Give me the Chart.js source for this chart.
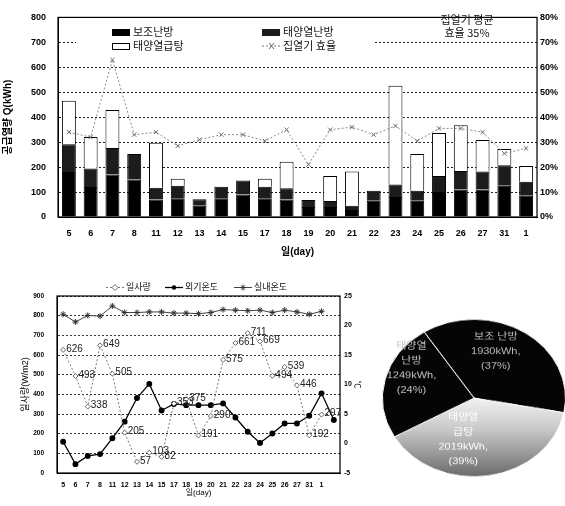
<!DOCTYPE html>
<html>
<head>
<meta charset="utf-8">
<script src="https://cdn.jsdelivr.net/npm/chart.js@4.4.0/dist/chart.umd.min.js"></script>
<style>
  body { margin: 0; background: #fff; width: 565px; height: 506px; overflow: hidden; position: relative;
         font-family: "Noto Sans CJK KR", "Liberation Sans", sans-serif; color: #111; }
  .abs { position: absolute; }
  .lg { position: absolute; font-size: 11px; line-height: 13px; white-space: nowrap; }
  .sw { position: absolute; width: 18px; height: 7px; box-sizing: border-box; }
  .lg2 { position: absolute; font-size: 9px; line-height: 11px; white-space: nowrap; }
</style>
</head>
<body>

<div class="abs" style="left:0;top:0;width:565px;height:262px"><canvas id="topChart"></canvas></div>

<!-- legend of the top chart, sits inside the plot on a white box -->
<div class="abs" style="left:76px;top:21px;width:298px;height:31px;background:#fff"></div>
<div class="sw" style="left:112px;top:29px;background:#000"></div>
<div class="lg" style="left:133px;top:25px">보조난방</div>
<div class="sw" style="left:262px;top:29px;background:#1c1c1c"></div>
<div class="lg" style="left:283px;top:25px">태양열난방</div>
<div class="sw" style="left:112px;top:43px;background:#fff;border:1px solid #000"></div>
<div class="lg" style="left:133px;top:39px">태양열급탕</div>
<svg class="abs" style="left:262px;top:41px" width="19" height="10">
  <line x1="0" y1="5" x2="19" y2="5" stroke="#777" stroke-dasharray="2,2"/>
  <path d="M7 2 L12 8 M12 2 L7 8" stroke="#666" stroke-width="1"/>
</svg>
<div class="lg" style="left:283px;top:39px">집열기 효율</div>
<div class="lg" style="left:434px;top:13px;width:66px;text-align:center">집열기 평균<br>효율 35%</div>

<div class="abs" style="left:0;top:272px;width:362px;height:234px"><canvas id="bottomChart"></canvas></div>

<!-- legend of the bottom chart -->
<svg class="abs" style="left:106px;top:283px" width="18" height="9">
  <line x1="0" y1="4.5" x2="18" y2="4.5" stroke="#777" stroke-dasharray="2,2"/>
  <path d="M9 1.5 L12 4.5 L9 7.5 L6 4.5 Z" fill="#fff" stroke="#666"/>
</svg>
<div class="lg2" style="left:126px;top:281px">일사량</div>
<svg class="abs" style="left:165px;top:283px" width="18" height="9">
  <line x1="0" y1="4.5" x2="18" y2="4.5" stroke="#000" stroke-width="1.3"/>
  <circle cx="9" cy="4.5" r="2.3" fill="#000"/>
</svg>
<div class="lg2" style="left:185px;top:281px">외기온도</div>
<svg class="abs" style="left:234px;top:283px" width="18" height="9">
  <line x1="0" y1="4.5" x2="18" y2="4.5" stroke="#444"/>
  <path d="M9 1.5 V7.5 M6 4.5 H12 M7 2.5 L11 6.5 M11 2.5 L7 6.5" stroke="#333"/>
</svg>
<div class="lg2" style="left:254px;top:281px">실내온도</div>

<div class="abs" id="pieWrap" style="left:382px;top:306px;width:184px;height:184px;transform:scaleY(0.86);transform-origin:50% 50%">
  <canvas id="pieChart" width="184" height="184"></canvas>
</div>

<script>
// ---- top chart: daily heat supply (kWh) + collector efficiency (%)
const days = ['5', '6', '7', '8', '11', '12', '13', '14', '15', '17', '18', '19', '20', '21', '22', '23', '24', '25', '26', '27', '31', '1'];
const auxHeat    = [180, 120, 170, 150, 70, 75, 45, 75, 90, 75, 70, 40, 40, 28, 65, 80, 65, 100, 110, 110, 125, 85];
const solarHeat  = [112, 74, 107, 103, 47, 50, 26, 46, 56, 46, 45, 28, 24, 17, 40, 50, 40, 64, 74, 72, 82, 56];
const solarWater = [174, 127, 152, 0, 181, 28, 0, 0, 0, 32, 106, 0, 100, 137, 0, 396, 148, 173, 184, 127, 66, 63];
const efficiency = [34, 32, 63, 33, 34, 28.5, 31, 33, 33, 30.5, 35, 21, 35, 36, 33, 36.5, 30.5, 35.5, 35.5, 34, 25.5, 27.5];

// ---- bottom chart: irradiance (W/m2) and temperatures (C)
const days2 = ['5', '6', '7', '8', '11', '12', '13', '14', '15', '17', '18', '19', '20', '21', '22', '23', '24', '25', '26', '27', '31', '1', ''];
const irradiance  = [626, 493, 338, 649, 505, 205, 57, 103, 82, 353, 375, 191, 290, 575, 661, 711, 669, 494, 539, 446, 192, 297, null];
const outdoorTemp = [0.3, -3.5, -2.1, -1.8, 0.9, 3.7, 7.7, 10.1, 5.6, 6.7, 6.5, 6.5, 6.5, 6.8, 4.4, 2.0, 0.1, 1.7, 3.4, 3.4, 4.7, 8.5, 4.0];
const indoorTemp  = [21.9, 20.6, 21.7, 21.6, 23.3, 22.2, 22.2, 22.3, 22.3, 22.1, 22.1, 22.0, 22.2, 22.7, 22.6, 22.5, 22.6, 22.2, 22.6, 22.3, 21.9, 22.4, null];

// ---- pie: share of heat supply
const pieNames  = [['보조 난방'], ['태양열', '급탕'], ['태양열', '난방']];
const pieValues = [1930, 2019, 1249];
const piePct    = ['37%', '39%', '24%'];

Chart.defaults.font.family = '"Liberation Sans", "Noto Sans CJK KR", sans-serif';
Chart.defaults.color = '#000';

// frame around the plot area
const frame = {
  id: 'frame',
  afterDatasetsDraw(chart) {
    const a = chart.chartArea, c = chart.ctx;
    c.save();
    c.strokeStyle = '#000';
    c.lineWidth = 1.2;
    c.strokeRect(a.left, a.top, a.right - a.left, a.bottom - a.top);
    c.restore();
  }
};

const barStyle = { borderColor: '#000', borderWidth: 1, order: 1, categoryPercentage: 0.64, barPercentage: 1 };

new Chart(document.getElementById('topChart'), {
  type: 'bar',
  data: {
    labels: days,
    datasets: [
      { type: 'line', label: '집열기 효율', data: efficiency, yAxisID: 'y1', order: 0,
        borderColor: '#8a8a8a', borderWidth: 1, borderDash: [2, 2], tension: 0,
        pointStyle: 'crossRot', pointRadius: 3, pointBorderColor: '#6a6a6a', pointBorderWidth: 1 },
      Object.assign({ label: '보조난방', data: auxHeat, backgroundColor: '#000' }, barStyle),
      Object.assign({ label: '태양열난방', data: solarHeat, backgroundColor: '#1c1c1c' }, barStyle),
      Object.assign({ label: '태양열급탕', data: solarWater, backgroundColor: '#fff' }, barStyle)
    ]
  },
  options: {
    responsive: true,
    maintainAspectRatio: false,
    animation: false,
    layout: { padding: { top: 15, left: 0, right: 0, bottom: 0 } },
    plugins: { legend: { display: false }, tooltip: { enabled: false } },
    scales: {
      x: {
        stacked: true,
        grid: { display: false, drawTicks: false },
        border: { color: '#000' },
        ticks: { font: { size: 9, weight: 'bold' }, padding: 11, maxRotation: 0, autoSkip: false },
        title: { display: true, text: '일(day)', font: { size: 10, weight: 'bold' }, padding: { top: 2, bottom: 4 } },
        afterFit: s => { s.height = 45; }
      },
      y: {
        stacked: true, min: 0, max: 800,
        ticks: { stepSize: 100, font: { size: 9, weight: 'bold' }, padding: 12 },
        grid: { color: '#222', lineWidth: 1, drawTicks: false },
        border: { dash: [2, 2], color: '#000' },
        title: { display: true, text: '공급열량 Q(kWh)', font: { size: 10, weight: 'bold' }, padding: { top: 2, bottom: 2 } },
        afterFit: s => { s.width = 58; }
      },
      y1: {
        position: 'right', min: 0, max: 80,
        ticks: { stepSize: 10, font: { size: 9, weight: 'bold' }, padding: 3, callback: v => v + '%' },
        grid: { display: false, drawTicks: false },
        afterFit: s => { s.width = 28; }
      }
    }
  },
  plugins: [frame]
});

// value labels next to the irradiance points
const irrLabels = {
  id: 'irrLabels',
  afterDatasetsDraw(chart) {
    const c = chart.ctx;
    const meta = chart.getDatasetMeta(0);
    c.save();
    c.font = '10px "Liberation Sans", sans-serif';
    c.fillStyle = '#222';
    c.textBaseline = 'middle';
    meta.data.forEach((pt, i) => {
      if (irradiance[i] == null) return;
      c.fillText(irradiance[i], pt.x + 3, pt.y - 1);
    });
    c.restore();
  }
};

new Chart(document.getElementById('bottomChart'), {
  type: 'line',
  data: {
    labels: days2,
    datasets: [
      { label: '일사량', data: irradiance, yAxisID: 'y', borderColor: '#7a7a7a', borderWidth: 1, borderDash: [2, 2],
        pointStyle: 'rectRot', pointRadius: 2.5, pointBackgroundColor: '#fff', pointBorderColor: '#666', tension: 0 },
      { label: '외기온도', data: outdoorTemp, yAxisID: 'y1', borderColor: '#000', borderWidth: 1.3,
        pointStyle: 'circle', pointRadius: 2.3, pointBackgroundColor: '#000', pointBorderColor: '#000', tension: 0 },
      { label: '실내온도', data: indoorTemp, yAxisID: 'y1', borderColor: '#444', borderWidth: 1,
        pointStyle: 'star', pointRadius: 3, pointBorderColor: '#333', tension: 0 }
    ]
  },
  options: {
    responsive: true,
    maintainAspectRatio: false,
    animation: false,
    layout: { padding: { top: 24, left: 20, right: 0, bottom: 0 } },
    plugins: { legend: { display: false }, tooltip: { enabled: false } },
    scales: {
      x: {
        offset: true,
        grid: { display: false, drawTicks: false },
        border: { color: '#000' },
        ticks: { font: { size: 7, weight: 'bold' }, padding: 8, maxRotation: 0, autoSkip: false },
        title: { display: true, text: '일(day)', font: { size: 8 }, padding: { top: 0, bottom: 8 } },
        afterFit: s => { s.height = 33; }
      },
      y: {
        min: 0, max: 900,
        ticks: { stepSize: 100, font: { size: 6.5, weight: 'bold' }, padding: 13 },
        grid: { color: '#333', lineWidth: 1, drawTicks: false },
        border: { dash: [2, 2], color: '#000' },
        title: { display: true, text: '일사량(W/m2)', font: { size: 9 }, padding: { top: 0, bottom: 0 } },
        afterFit: s => { s.width = 37; }
      },
      y1: {
        position: 'right', min: -5, max: 25,
        ticks: { stepSize: 5, font: { size: 7, weight: 'bold' }, padding: 4 },
        grid: { display: false, drawTicks: false },
        title: { display: true, text: '℃', font: { size: 8 }, padding: { top: 0, bottom: 0 } },
        afterFit: s => { s.width = 22; }
      }
    }
  },
  plugins: [frame, irrLabels]
});

// slice labels drawn along each arc (radius factor, angle nudge in degrees)
const pieLabelPos = [[0.64, -12], [0.54, 22], [0.78, 15]];
const pieTextColor = ['#bdbdbd', '#ffffff', '#c4c4c4'];
const pieLabels = {
  id: 'pieLabels',
  afterDatasetsDraw(chart) {
    const c = chart.ctx;
    const arcs = chart.getDatasetMeta(0).data;
    c.save();
    c.font = '11px "Liberation Sans", "Noto Sans CJK KR", sans-serif';
    c.textAlign = 'center';
    c.textBaseline = 'middle';
    arcs.forEach((arc, i) => {
      const p = arc.getProps(['x', 'y', 'startAngle', 'endAngle', 'outerRadius']);
      const mid = (p.startAngle + p.endAngle) / 2 + pieLabelPos[i][1] * Math.PI / 180;
      const r = p.outerRadius * pieLabelPos[i][0];
      const lines = pieNames[i].concat([pieValues[i] + 'kWh,', '(' + piePct[i] + ')']);
      const lh = 17;
      const x = p.x + Math.cos(mid) * r;
      const y0 = p.y + Math.sin(mid) * r - (lines.length - 1) * lh / 2;
      c.fillStyle = pieTextColor[i];
      lines.forEach((t, k) => c.fillText(t, x, y0 + k * lh));
    });
    c.restore();
  }
};

new Chart(document.getElementById('pieChart'), {
  type: 'pie',
  data: {
    labels: pieNames.map(n => n.join(' ')),
    datasets: [{
      data: pieValues,
      borderColor: '#fff',
      borderWidth: 1,
      backgroundColor: ctx => {
        if (ctx.dataIndex !== 1) return '#050505';
        const area = ctx.chart.chartArea;
        if (!area) return '#cccccc';
        const g = ctx.chart.ctx.createLinearGradient(0, area.top + area.height * 0.5, 0, area.bottom);
        g.addColorStop(0, '#f2f2f2');
        g.addColorStop(0.4, '#c8c8c8');
        g.addColorStop(1, '#6a6a6a');
        return g;
      }
    }]
  },
  options: {
    responsive: false,
    animation: false,
    rotation: -33,
    layout: { padding: 0 },
    plugins: { legend: { display: false }, tooltip: { enabled: false } }
  },
  plugins: [pieLabels]
});
</script>
</body>
</html>
